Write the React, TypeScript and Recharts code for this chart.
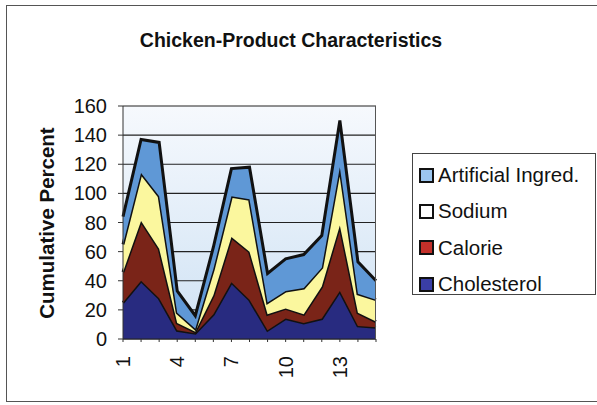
import React from 'react'
import {
    AreaChart,
    Area,
    XAxis,
    YAxis,
    CartesianGrid
} from 'recharts'

// values (individual layer heights, stacked in the chart)
const products = [1, 2, 3, 4, 5, 6, 7, 8, 9, 10, 11, 12, 13, 14, 15]
const cholesterol = [25, 40, 28, 6, 4, 17, 39, 27, 6, 14, 11, 14, 33, 9, 8]
const calorie = [21, 41, 34, 5, 1, 13, 31, 33, 11, 7, 6, 22, 45, 9, 4]
const sodium = [19, 33, 36, 7, 2, 18, 28, 36, 8, 12, 18, 13, 40, 13, 15]
const artificial = [19, 23, 37, 15, 9, 15, 19, 22, 20, 22, 23, 22, 32, 22, 13]
const yTicks = [0, 20, 40, 60, 80, 100, 120, 140, 160]

const data = products.map((p, i) => ({
    product: p,
    Cholesterol: cholesterol[i],
    Calorie: calorie[i],
    Sodium: sodium[i],
    'Artificial Ingred.': artificial[i]
}))

const FONT = '"Liberation Sans", Arial, sans-serif'

// legend order is top layer first, like the original
const legendItems = [
    { label: 'Artificial Ingred.', swatch: '#9cc6ef' },
    { label: 'Sodium', swatch: '#ffffff' },
    { label: 'Calorie', swatch: '#c2302a' },
    { label: 'Cholesterol', swatch: '#3a3ea6' }
]

function LegendBox() {
    return (
        <div style={{
            position: 'absolute',
            left: 412,
            top: 153,
            width: 184,
            height: 142,
            border: '1px solid #444',
            background: '#fff',
            boxSizing: 'border-box',
            padding: '3px 0 0 6px',
            fontFamily: FONT,
            fontSize: 20.5,
            color: '#111'
        }}>
            {legendItems.map(item => (
                <div key={item.label} style={{ display: 'flex', alignItems: 'center', height: 36.3, whiteSpace: 'nowrap' }}>
                    <span style={{
                        display: 'inline-block',
                        width: 11,
                        height: 11,
                        border: '2px solid #111',
                        background: item.swatch,
                        marginRight: 4
                    }} />
                    <span>{item.label}</span>
                </div>
            ))}
        </div>
    )
}

function XTick(props: any) {
    const { x, y, payload, index } = props
    if (index % 3 !== 0) return null
    return (
        <text
            transform={`translate(${x + 7},${y + 12}) rotate(-90)`}
            textAnchor="end"
            fontSize={20}
            fontFamily={FONT}
            fill="#111"
        >
            {payload.value}
        </text>
    )
}

export default function App() {
    return (
        <div style={{ position: 'absolute', left: 0, top: 0, width: 597, height: 405, background: '#fff', overflow: 'hidden' }}>
            <div style={{
                position: 'absolute', left: 6, top: 5, width: 620, height: 397,
                border: '1px solid #555', boxSizing: 'border-box'
            }} />
            <div style={{
                position: 'absolute', left: 0, width: 582, top: 29, textAlign: 'center',
                fontFamily: FONT, fontWeight: 'bold', fontSize: 19.5, color: '#111'
            }}>
                Chicken-Product Characteristics
            </div>
            <div style={{
                position: 'absolute', left: 47, top: 223, width: 260,
                transform: 'translate(-50%, -50%) rotate(-90deg)',
                textAlign: 'center', fontFamily: FONT, fontWeight: 'bold', fontSize: 20.5, color: '#111'
            }}>
                Cumulative Percent
            </div>
            <div style={{ position: 'absolute', left: 0, top: 0 }}>
                <AreaChart
                    width={597}
                    height={405}
                    data={data}
                    margin={{ top: 106, right: 221, bottom: 0, left: 0 }}
                >
                    <defs>
                        <linearGradient id="plotBg" x1="0" y1="0" x2="0" y2="1">
                            <stop offset="0%" stopColor="#f6f9fd" />
                            <stop offset="100%" stopColor="#cfe2f4" />
                        </linearGradient>
                    </defs>
                    <CartesianGrid
                        fill="url(#plotBg)"
                        stroke="#222"
                        strokeWidth={1.2}
                        vertical={false}
                    />
                    <XAxis
                        dataKey="product"
                        height={66}
                        interval={0}
                        tick={<XTick />}
                        tickSize={3}
                        tickLine={{ stroke: '#333' }}
                        axisLine={{ stroke: '#222' }}
                    />
                    <YAxis
                        width={123}
                        domain={[0, 160]}
                        ticks={yTicks}
                        interval={0}
                        tickSize={5}
                        tickMargin={11}
                        tick={{ fontSize: 20, fontFamily: FONT, fill: '#111' }}
                        tickLine={{ stroke: '#333' }}
                        axisLine={{ stroke: '#333' }}
                    />
                    <Area type="linear" dataKey="Cholesterol" stackId="1" stroke="#111" strokeWidth={3} fill="#282b80" fillOpacity={1} dot={false} activeDot={false} isAnimationActive={false} />
                    <Area type="linear" dataKey="Calorie" stackId="1" stroke="#111" strokeWidth={3} fill="#7a2418" fillOpacity={1} dot={false} activeDot={false} isAnimationActive={false} />
                    <Area type="linear" dataKey="Sodium" stackId="1" stroke="#111" strokeWidth={3} fill="#fbf79e" fillOpacity={1} dot={false} activeDot={false} isAnimationActive={false} />
                    <Area type="linear" dataKey="Artificial Ingred." stackId="1" stroke="#111" strokeWidth={3} fill="#5f98d6" fillOpacity={1} dot={false} activeDot={false} isAnimationActive={false} />
                </AreaChart>
            </div>
            <div style={{ position: 'absolute', left: 375, top: 106, width: 1, height: 233, background: '#555' }} />
            <LegendBox />
        </div>
    )
}
